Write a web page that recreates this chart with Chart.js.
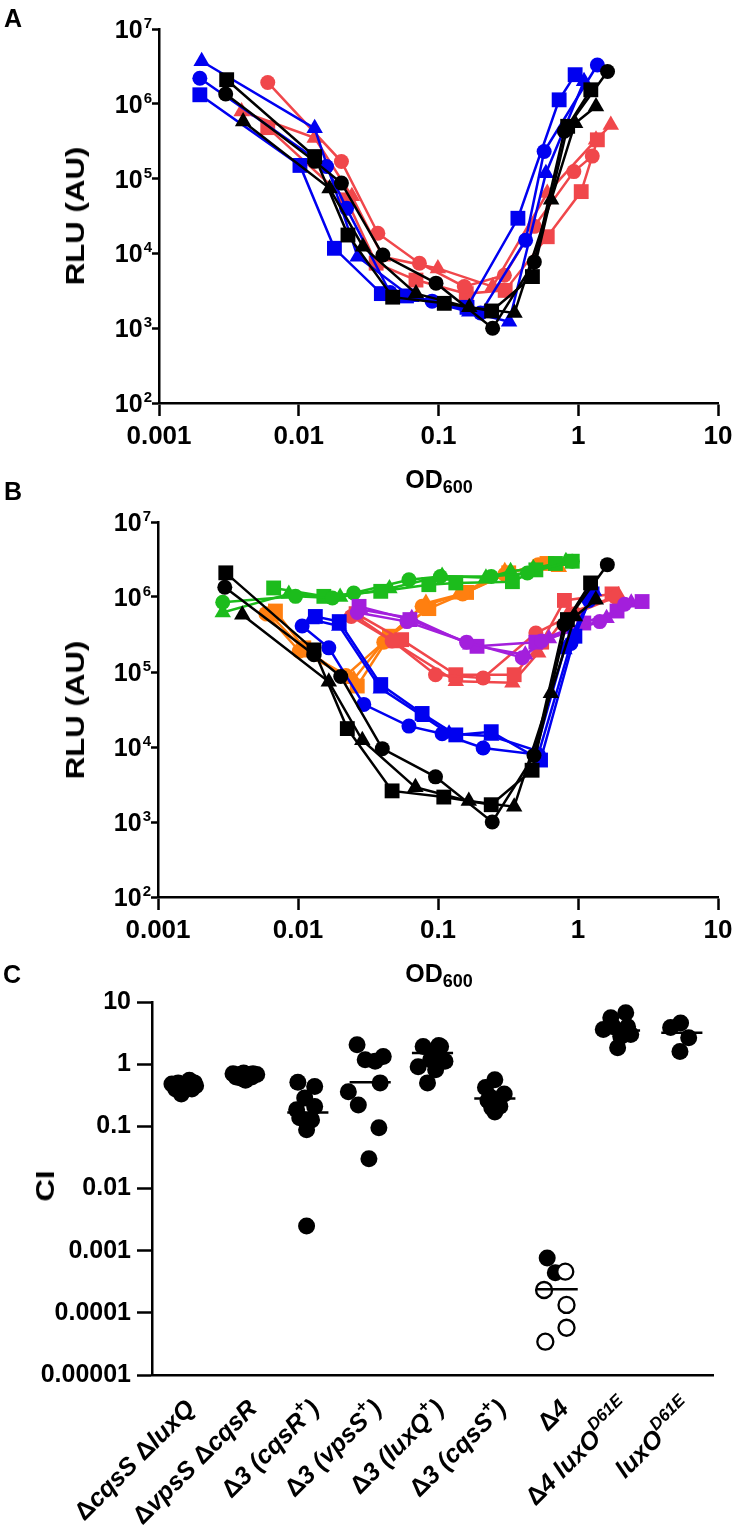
<!DOCTYPE html>
<html>
<head>
<meta charset="utf-8">
<title>Quorum-sensing reporter output and competitive index</title>
<script src="https://cdn.jsdelivr.net/npm/chart.js"></script>
<style>
  body { margin: 0; background: #fff; }
  #fig { position: relative; width: 733px; height: 1527px; font-family: 'Liberation Sans', Arial, sans-serif; font-weight: bold; color: #000; }
  canvas { position: absolute; left: 0; }
  .txt { position: absolute; line-height: 1; white-space: nowrap; }
  .panel { font-size: 25px; }
  .od { font-size: 25px; width: 200px; text-align: center; }
  .od span { font-size: 18px; position: relative; top: 5px; }
  .rot { font-size: 26px; transform: translate(-50%, -50%) rotate(-90deg) scaleX(1.2); }
</style>
</head>
<body>
<div id="fig">
  <canvas id="chartA" width="733" height="480" style="top:0"></canvas>
  <canvas id="chartB" width="733" height="470" style="top:480px"></canvas>
  <canvas id="chartC" width="733" height="577" style="top:950px"></canvas>

  <div class="txt panel" style="left:4px;top:6px">A</div>
  <div class="txt rot" style="left:75px;top:216px">RLU (AU)</div>
  <div class="txt od" style="left:339px;top:467px">OD<span>600</span></div>

  <div class="txt panel" style="left:4px;top:479px">B</div>
  <div class="txt rot" style="left:75px;top:710px">RLU (AU)</div>
  <div class="txt od" style="left:339px;top:961px">OD<span>600</span></div>

  <div class="txt panel" style="left:3px;top:962px">C</div>
  <div class="txt rot" style="left:45px;top:1186px">CI</div>
</div>

<script>
// ---- axis ticks ----
const odTicks = [0.001, 0.01, 0.1, 1, 10];
const odTickLabels = ['0.001', '0.01', '0.1', '1', '10'];
const rluExponents = [2, 3, 4, 5, 6, 7];
const ciTicks = [0.00001, 0.0001, 0.001, 0.01, 0.1, 1, 10];
const ciTickLabels = ['0.00001', '0.0001', '0.001', '0.01', '0.1', '1', '10'];

// ---- panel A / B: [OD600, RLU] per replicate ----
// black curves appear in both panels
const blackCircle = [[0.003, 1.35e6], [0.013, 1.7e5], [0.0202, 8.7e4], [0.04, 9.5e3], [0.096, 4.0e3], [0.244, 1.0e3], [0.485, 7.7e3], [0.795, 4.3e5], [1.62, 2.7e6]];
const blackSquare = [[0.00305, 2.1e6], [0.013, 1.97e5], [0.0225, 1.76e4], [0.047, 2.6e3], [0.11, 2.15e3], [0.24, 1.7e3], [0.47, 4.9e3], [0.84, 5.0e5], [1.23, 1.54e6]];
const blackTriangle = [[0.004, 5.8e5], [0.0166, 7.4e4], [0.0288, 1.23e4], [0.069, 2.9e3], [0.166, 1.9e3], [0.35, 1.6e3], [0.64, 5.2e4], [0.95, 5.5e5], [1.34, 9.2e5]];

const blueCircleA = [[0.00196, 2.2e6], [0.0158, 1.45e5], [0.022, 4.0e4], [0.045, 3.0e3], [0.09, 2.3e3], [0.2, 1.6e3], [0.42, 1.5e4], [0.57, 2.3e5], [1.37, 3.3e6]];
const blueSquareA = [[0.00196, 1.32e6], [0.0102, 1.5e5], [0.018, 1.17e4], [0.039, 2.9e3], [0.059, 2.7e3], [0.16, 1.9e3], [0.37, 2.95e4], [0.73, 1.13e6], [0.95, 2.45e6]];
const blueTriangleA = [[0.00202, 3.7e6], [0.013, 4.7e5], [0.0264, 9.0e3], [0.064, 2.6e3], [0.166, 1.66e3], [0.32, 1.22e3], [0.587, 1.18e5], [1.1, 2.0e6]];

const redCircleA = [[0.006, 1.93e6], [0.0202, 1.69e5], [0.0368, 1.86e4], [0.073, 7.4e3], [0.153, 3.6e3], [0.296, 5.1e3], [0.485, 2.3e4], [0.93, 1.24e5], [1.26, 2.0e5]];
const redSquareA = [[0.006, 4.8e5], [0.022, 5.2e4], [0.0358, 7.4e3], [0.069, 4.4e3], [0.158, 2.9e3], [0.3, 3.2e3], [0.6, 1.67e4], [1.05, 6.7e4], [1.37, 3.3e5]];
const redTriangleA = [[0.0039, 7.9e5], [0.013, 3.5e5], [0.024, 5.8e4], [0.04, 9.0e3], [0.099, 6.3e3], [0.244, 3.6e3], [0.6, 6.4e4], [1.34, 3.3e5], [1.71, 5.2e5]];

const greenCircle = [[0.0029, 8.5e5], [0.0096, 1.02e6], [0.0176, 9.7e5], [0.025, 1.13e6], [0.062, 1.7e6], [0.104, 1.88e6], [0.24, 1.88e6], [0.435, 2.09e6], [0.91, 3.0e6]];
const greenSquare = [[0.0067, 1.32e6], [0.0153, 1.02e6], [0.039, 1.19e6], [0.086, 1.46e6], [0.134, 1.54e6], [0.34, 1.6e6], [0.5, 2.3e6], [0.69, 2.8e6], [0.91, 3.0e6]];
const greenTriangle = [[0.0029, 6.2e5], [0.0086, 1.1e6], [0.02, 1.0e6], [0.045, 1.3e6], [0.107, 1.9e6], [0.22, 1.8e6], [0.33, 2.2e6], [0.48, 2.4e6], [0.82, 3.0e6]];

const orangeCircle = [[0.0059, 6.0e5], [0.0102, 1.9e5], [0.022, 9.0e4], [0.041, 2.5e5], [0.077, 7.5e5], [0.15, 1.1e6], [0.3, 2.0e6], [0.52, 2.7e6]];
const orangeSquare = [[0.0069, 6.5e5], [0.011, 2.1e5], [0.0265, 6.5e4], [0.045, 3.0e5], [0.086, 7.0e5], [0.16, 1.15e6], [0.32, 2.1e6], [0.6, 2.8e6]];
const orangeTriangle = [[0.0065, 5.5e5], [0.0115, 1.8e5], [0.025, 8.0e4], [0.043, 2.8e5], [0.082, 8.3e5], [0.14, 1.07e6], [0.3, 2.2e6], [0.73, 2.5e6]];

const purpleCircle = [[0.0265, 6.2e5], [0.06, 4.7e5], [0.16, 2.5e5], [0.4, 1.55e5], [0.55, 2.6e5], [1.43, 4.7e5], [2.15, 8.0e5]];
const purpleSquare = [[0.0273, 7.5e5], [0.063, 5.0e5], [0.19, 2.2e5], [0.5, 2.5e5], [1.1, 4.5e5], [1.9, 6.5e5], [2.87, 8.7e5]];
const purpleTriangle = [[0.028, 6.8e5], [0.065, 5.2e5], [0.17, 2.3e5], [0.42, 1.7e5], [0.62, 2.8e5], [1.6, 5.2e5], [2.4, 8.4e5]];

const redCircleB = [[0.024, 5.5e5], [0.047, 2.6e5], [0.096, 9.2e4], [0.21, 8.3e4], [0.5, 3.3e5], [0.95, 6.0e5], [1.85, 1.0e6]];
const redSquareB = [[0.026, 6.0e5], [0.055, 2.7e5], [0.134, 9.2e4], [0.35, 9.2e4], [0.55, 2.5e5], [0.8, 9.0e5], [1.75, 1.1e6]];
const redTriangleB = [[0.025, 5.8e5], [0.05, 2.4e5], [0.134, 7.5e4], [0.34, 7.2e4], [0.52, 1.8e5], [0.85, 6.0e5], [1.95, 1.05e6]];

const blueCircleB = [[0.0107, 4.1e5], [0.0166, 2.1e5], [0.0295, 3.7e4], [0.062, 1.9e4], [0.107, 1.5e4], [0.21, 9.7e3], [0.52, 7.9e3], [0.89, 2.4e5], [1.2, 9.0e5]];
const blueSquareB = [[0.0133, 5.5e5], [0.0197, 4.7e5], [0.039, 6.8e4], [0.077, 2.8e4], [0.134, 1.45e4], [0.24, 1.6e4], [0.54, 6.7e3], [0.95, 3.0e5], [1.26, 1.1e6]];
const blueTriangleB = [[0.0125, 5.0e5], [0.0197, 4.1e5], [0.039, 6.0e4], [0.08, 2.5e4], [0.12, 1.5e4], [0.24, 1.4e4], [0.5, 9.0e3], [0.8, 2.0e5], [1.3, 1.2e6]];

// ---- panel C: competitive index, [offset from category centre, CI] ----
const ciCategories = ['ΔcqsS ΔluxQ', 'ΔvpsS ΔcqsR', 'Δ3 (cqsR{+})', 'Δ3 (vpsS{+})', 'Δ3 (luxQ{+})', 'Δ3 (cqsS{+})', 'Δ4', 'Δ4 luxO{D61E}', 'luxO{D61E}'];
const ciFilled = [
  [[-0.18, 0.48], [-0.08, 0.5], [0.02, 0.47], [0.1, 0.55], [0.18, 0.5], [0.2, 0.45], [-0.12, 0.4], [0, 0.38], [0.08, 0.42], [-0.03, 0.33], [0.14, 0.4]],
  [[-0.2, 0.7], [-0.1, 0.68], [-0.03, 0.72], [0.05, 0.68], [0.12, 0.7], [0.18, 0.68], [-0.08, 0.6], [0, 0.55], [0.1, 0.62], [-0.15, 0.62]],
  [[-0.16, 0.51], [0.11, 0.437], [-0.05, 0.285], [0.11, 0.208], [-0.18, 0.185], [-0.13, 0.137], [0.06, 0.127], [-0.02, 0.088], [-0.02, 0.0025]],
  [[-0.21, 2.05], [-0.08, 1.18], [0.08, 1.11], [0.21, 1.33], [0.16, 0.5], [-0.35, 0.36], [-0.19, 0.22], [0.14, 0.095], [-0.02, 0.03]],
  [[-0.15, 1.93], [0.1, 2.0], [0, 1.52], [0.2, 1.11], [0.05, 0.81], [-0.23, 0.91], [-0.08, 0.5], [0.13, 1.93], [-0.03, 1.18]],
  [[0, 0.56], [-0.15, 0.42], [0.15, 0.33], [-0.08, 0.3], [0.05, 0.25], [-0.05, 0.2], [0.08, 0.21], [0, 0.17], [-0.11, 0.26]],
  [[-0.16, 0.00076], [-0.03, 0.00044]],
  [[-0.14, 5.6], [0.1, 6.7], [-0.1, 4.0], [0.13, 4.0], [0.02, 2.8], [-0.03, 1.84], [-0.26, 3.6], [0.05, 3.3], [0.18, 3.0]],
  [[-0.18, 3.9], [-0.02, 4.6], [0.11, 2.65], [-0.03, 1.6]],
];
const ciOpen = [[], [], [], [], [], [], [[0.13, 0.00046], [-0.21, 0.000233], [0.15, 0.000134], [0.15, 0.0000575], [-0.19, 0.0000343]], [], []];
const ciMedians = [null, null, 0.167, 0.51, 1.51, 0.28, 0.000239, 3.49, 3.2];

// ---- drawing helpers ----
const FONT = '"Liberation Sans", Arial, sans-serif';
const BLUE = '#0000f0';
const RED = '#f0474b';
const GREEN = '#1cbc1c';
const ORANGE = '#ff7f10';
const PURPLE = '#a31fdc';
const radii = { circle: 7.5, rect: 10.5, triangle: 9.5 };

const series = (points, color, shape) => ({
  data: points.map(([x, y]) => ({ x, y })),
  borderColor: color,
  backgroundColor: color,
  borderWidth: 2.5,
  pointStyle: shape,
  pointRadius: radii[shape],
  pointBorderWidth: 0,
  tension: 0,
});

const zeroPad = (s) => {
  s.paddingLeft = 0; s.paddingRight = 0; s.paddingTop = 0; s.paddingBottom = 0;
};

const odAxis = (height) => ({
  type: 'logarithmic',
  min: 0.001,
  max: 10,
  afterBuildTicks: (s) => { s.ticks = odTicks.map((v) => ({ value: v })); },
  afterFit: (s) => { s.height = height; zeroPad(s); },
  ticks: {
    callback: (v, i) => odTickLabels[i],
    font: { family: FONT, size: 26, weight: 'bold' },
    color: '#000', padding: 5, maxRotation: 0, autoSkip: false,
  },
  grid: { display: true, drawOnChartArea: false, tickLength: 13, tickWidth: 2.5, tickColor: '#000' },
  border: { color: '#000', width: 2.5 },
});

const rluAxis = (width) => ({
  type: 'logarithmic',
  min: 100,
  max: 1e7,
  afterBuildTicks: (s) => { s.ticks = rluExponents.map((e) => ({ value: 10 ** e })); },
  afterFit: (s) => { s.width = width; zeroPad(s); },
  ticks: { display: false },
  grid: { display: true, drawOnChartArea: false, tickLength: 7, tickWidth: 2.5, tickColor: '#000' },
  border: { color: '#000', width: 2.5 },
});

// "10" with a raised exponent next to each y tick
const decadeLabels = {
  id: 'decadeLabels',
  afterDraw(chart) {
    const { ctx } = chart;
    const y = chart.scales.y;
    const right = y.right - 7;
    ctx.save();
    ctx.fillStyle = '#000';
    ctx.textAlign = 'right';
    ctx.textBaseline = 'alphabetic';
    rluExponents.forEach((e) => {
      const py = y.getPixelForValue(10 ** e);
      ctx.font = `bold 15px ${FONT}`;
      const ew = ctx.measureText(String(e)).width;
      ctx.fillText(String(e), right, py - 1);
      ctx.font = `bold 25px ${FONT}`;
      ctx.fillText('10', right - ew - 1, py + 9);
    });
    ctx.restore();
  },
};

// rotated strain names, italic gene names, upright deltas, raised superscripts
const labelParts = (label) => {
  const out = [];
  label.split(/(\{[^}]*\})/).forEach((p) => {
    if (!p) return;
    if (p[0] === '{') { out.push({ t: p.slice(1, -1), sup: true }); return; }
    p.split(/(Δ)/).forEach((q) => { if (q) out.push({ t: q, upright: q === 'Δ' }); });
  });
  return out;
};
const partFont = (p) => (p.sup ? `italic bold 17px ${FONT}` : p.upright ? `bold 25px ${FONT}` : `italic bold 25px ${FONT}`);

const categoryLabels = {
  id: 'categoryLabels',
  afterDraw(chart) {
    const { ctx } = chart;
    const x = chart.scales.x;
    const base = chart.chartArea.bottom;
    ctx.save();
    ctx.fillStyle = '#000';
    ctx.textAlign = 'left';
    ctx.textBaseline = 'middle';
    ciCategories.forEach((label, i) => {
      const parts = labelParts(label);
      let total = 0;
      parts.forEach((p) => { ctx.font = partFont(p); p.w = ctx.measureText(p.t).width; total += p.w; });
      ctx.save();
      ctx.translate(x.getPixelForValue(i + 1) + 8, base + 30);
      ctx.rotate(-Math.PI / 4);
      let cx = -total;
      parts.forEach((p) => {
        ctx.font = partFont(p);
        ctx.fillText(p.t, cx, p.sup ? -10 : 0);
        cx += p.w;
      });
      ctx.restore();
    });
    ctx.restore();
  },
};

const baseOptions = (padding, scales) => ({
  animation: false,
  responsive: false,
  events: [],
  layout: { padding },
  plugins: { legend: { display: false }, tooltip: { enabled: false } },
  scales,
});

// ---- panel A ----
new Chart(document.getElementById('chartA'), {
  type: 'line',
  data: {
    datasets: [
      series(blackCircle, '#000', 'circle'),
      series(blackSquare, '#000', 'rect'),
      series(blackTriangle, '#000', 'triangle'),
      series(blueCircleA, BLUE, 'circle'),
      series(blueSquareA, BLUE, 'rect'),
      series(blueTriangleA, BLUE, 'triangle'),
      series(redCircleA, RED, 'circle'),
      series(redSquareA, RED, 'rect'),
      series(redTriangleA, RED, 'triangle'),
    ],
  },
  options: baseOptions({ top: 29, right: 15, left: 0, bottom: 0 }, { x: odAxis(77), y: rluAxis(159) }),
  plugins: [decadeLabels],
});

// ---- panel B ----
new Chart(document.getElementById('chartB'), {
  type: 'line',
  data: {
    datasets: [
      series(blackCircle, '#000', 'circle'),
      series(blackSquare, '#000', 'rect'),
      series(blackTriangle, '#000', 'triangle'),
      series(blueCircleB, BLUE, 'circle'),
      series(blueSquareB, BLUE, 'rect'),
      series(blueTriangleB, BLUE, 'triangle'),
      series(purpleCircle, PURPLE, 'circle'),
      series(purpleSquare, PURPLE, 'rect'),
      series(purpleTriangle, PURPLE, 'triangle'),
      series(redCircleB, RED, 'circle'),
      series(redSquareB, RED, 'rect'),
      series(redTriangleB, RED, 'triangle'),
      series(greenCircle, GREEN, 'circle'),
      series(greenSquare, GREEN, 'rect'),
      series(greenTriangle, GREEN, 'triangle'),
      series(orangeCircle, ORANGE, 'circle'),
      series(orangeSquare, ORANGE, 'rect'),
      series(orangeTriangle, ORANGE, 'triangle'),
    ],
  },
  options: baseOptions({ top: 42, right: 15, left: 0, bottom: 0 }, { x: odAxis(53), y: rluAxis(158) }),
  plugins: [decadeLabels],
});

// ---- panel C ----
const toPoints = (cols) => cols.flatMap((pts, i) => pts.map(([dx, v]) => ({ x: i + 1 + dx, y: v })));
const medianSets = ciMedians
  .map((m, i) => (m === null ? null : {
    type: 'line',
    data: [{ x: i + 1 - 0.33, y: m }, { x: i + 1 + 0.33, y: m }],
    borderColor: '#000', borderWidth: 2.5, pointRadius: 0, showLine: true,
  }))
  .filter(Boolean);

new Chart(document.getElementById('chartC'), {
  type: 'scatter',
  data: {
    datasets: [
      ...medianSets,
      { data: toPoints(ciOpen), pointRadius: 8, backgroundColor: '#fff', borderColor: '#000', pointBorderWidth: 2.3 },
      { data: toPoints(ciFilled), pointRadius: 8.5, backgroundColor: '#000', borderColor: '#000', pointBorderWidth: 0 },
    ],
  },
  options: baseOptions({ top: 52, right: 20, left: 0, bottom: 0 }, {
    x: {
      type: 'linear', min: 0.5, max: 9.5,
      afterFit: (s) => { s.height = 152; zeroPad(s); },
      ticks: { display: false },
      grid: { display: false },
      border: { color: '#000', width: 2.5 },
    },
    y: {
      type: 'logarithmic', min: 0.00001, max: 10,
      afterBuildTicks: (s) => { s.ticks = ciTicks.map((v) => ({ value: v })); },
      afterFit: (s) => { s.width = 152; zeroPad(s); },
      ticks: {
        callback: (v, i) => ciTickLabels[i],
        font: { family: FONT, size: 25, weight: 'bold' },
        color: '#000', padding: 6, autoSkip: false,
      },
      grid: { display: true, drawOnChartArea: false, tickLength: 15, tickWidth: 2.5, tickColor: '#000' },
      border: { color: '#000', width: 2.5 },
    },
  }),
  plugins: [categoryLabels],
});
</script>
</body>
</html>
